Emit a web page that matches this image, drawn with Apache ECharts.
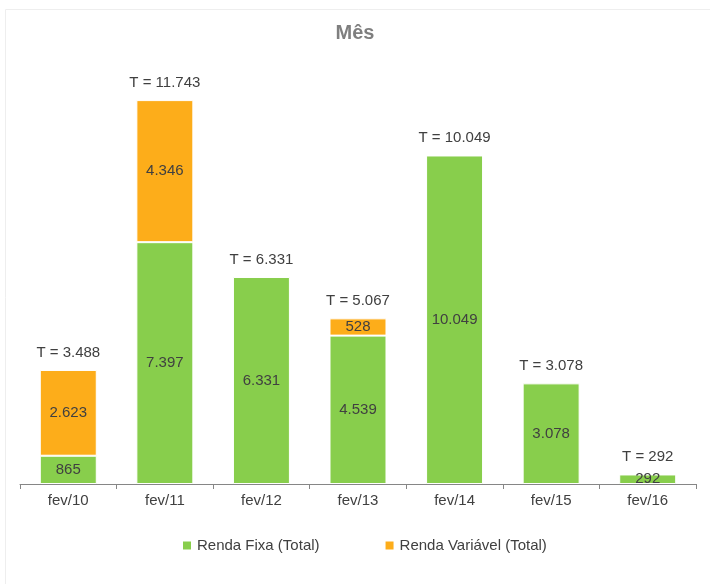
<!DOCTYPE html>
<html><head><meta charset="utf-8">
<script src="https://cdn.jsdelivr.net/npm/echarts@6/dist/echarts.min.js"></script>
<style>html,body{margin:0;padding:0;background:#fff}#c{width:710px;height:584px}</style>
</head><body><div id="c"></div>
<script>
const categories = ['fev/10','fev/11','fev/12','fev/13','fev/14','fev/15','fev/16'];
const rendaFixa = [865, 7397, 6331, 4539, 10049, 3078, 292];
const rendaVariavel = [2623, 4346, null, 528, null, null, null];
const totals = [3488, 11743, 6331, 5067, 10049, 3078, 292];
const seriesNames = ['Renda Fixa (Total)', 'Renda Variável (Total)'];

function fmt(v){ return String(v).replace(/\B(?=(\d{3})+(?!\d))/g, '.'); }

const chart = echarts.init(document.getElementById('c'), null, {renderer:'canvas'});
const font = 'Liberation Sans, Arial, sans-serif';
chart.setOption({
  animation:false,
  title:{text:'Mês', left:'center', top:18, textStyle:{fontFamily:font, fontSize:20, fontWeight:'bold', color:'#7f7f7f'}},
  graphic:[{type:'rect', shape:{x:5.5,y:9.5,width:720,height:600}, style:{fill:'none', stroke:'#eeeeee', lineWidth:1}, silent:true}],
  legend:{data:seriesNames, bottom:31, left:181, itemWidth:10, itemHeight:10, itemGap:64, icon:'rect', padding:0,
    textStyle:{fontFamily:font, fontSize:15, color:'#404040', padding:[0,0,0,0]}},
  grid:{left:20, right:14, top:59, bottom:100},
  xAxis:{type:'category', data:categories, axisLine:{lineStyle:{color:'#868686'}},
    axisTick:{show:true, length:5, lineStyle:{color:'#868686'}},
    axisLabel:{fontFamily:font, fontSize:15, color:'#404040', margin:9}},
  yAxis:{type:'value', min:0, max:13000, show:false, splitLine:{show:false}},
  series:[
    {name:seriesNames[0], type:'bar', stack:'t', data:rendaFixa, barWidth:'59%',
     itemStyle:{color:'#88CE4C', borderColor:'#ffffff', borderWidth:1},
     label:{show:true, position:'inside', fontFamily:font, fontSize:15, color:'#404040', formatter:p=>fmt(p.value)}},
    {name:seriesNames[1], type:'bar', stack:'t', data:rendaVariavel, barWidth:'59%',
     itemStyle:{color:'#FDAD1A', borderColor:'#ffffff', borderWidth:1},
     label:{show:true, position:'inside', fontFamily:font, fontSize:15, color:'#404040', formatter:p=>p.value==null?'':fmt(p.value)}},
    {name:'T', type:'bar', stack:'t', data:totals.map(()=>0), barWidth:'59%', itemStyle:{color:'transparent'},
     label:{show:true, position:'top', distance:10, fontFamily:font, fontSize:15, color:'#404040', formatter:p=>'T = '+fmt(totals[p.dataIndex])}}
  ]
});
</script></body></html>
